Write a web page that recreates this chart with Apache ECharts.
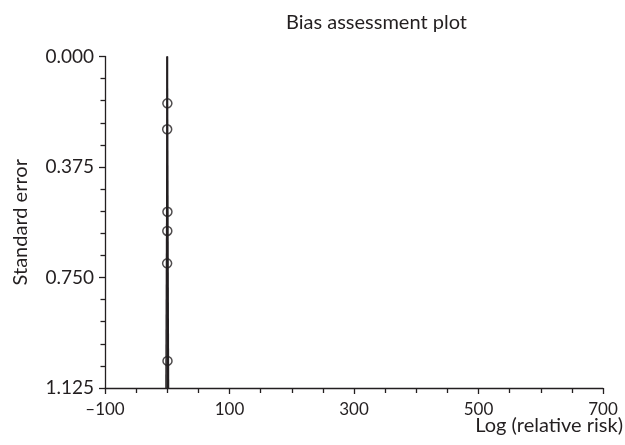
<!DOCTYPE html>
<html>
<head>
    <meta charset="utf-8">
    <title>Bias assessment plot</title>
    <style>
        html, body { margin: 0; padding: 0; background: #fff; }
        #chart { width: 625px; height: 445px; }
    </style>
</head>
<body>
<div id="chart"></div>
<script src="https://cdn.jsdelivr.net/npm/echarts@6/dist/echarts.min.js"></script>
<script>
    // study points: log relative risk and standard error
    var logRR = [0.2, -0.1, 0.3, 0.1, -0.2, 0.4];
    var stdErr = [0.159, 0.247, 0.527, 0.592, 0.702, 1.033];
    // pooled estimate line and funnel limits
    var pooledLine = [[0, 0], [0, 1.125]];
    var funnelLeft = [[0, 0], [-2.2, 1.125]];
    var funnelRight = [[0, 0], [2.2, 1.125]];
    var xTicks = [-100, 100, 300, 500, 700];
    var yTicks = [0, 0.375, 0.75, 1.125];

    var font = 'Lato, "Open Sans", sans-serif';
    var ink = '#231f20';

    var points = logRR.map(function (x, i) { return [x, stdErr[i]]; });

    var myChart = echarts.init(document.getElementById('chart'));

    var option = {
        animation: false,
        backgroundColor: '#fff',
        title: {
            text: 'Bias assessment plot',
            left: 281,
            top: 8,
            textStyle: { fontFamily: font, fontSize: 20, fontWeight: 'normal', color: ink }
        },
        grid: { left: 105, right: 22, top: 56.5, bottom: 57, containLabel: false, outerBoundsMode: 'none' },
        xAxis: {
            type: 'value',
            min: xTicks[0],
            max: xTicks[xTicks.length - 1],
            interval: 200,
            name: 'Log (relative risk)',
            nameLocation: 'end',
            nameGap: 20,
            nameMoveOverlap: false,
            nameTextStyle: {
                fontFamily: font, fontSize: 20, color: ink,
                align: 'right', verticalAlign: 'top', padding: [28, 0, 0, 0]
            },
            axisLine: { onZero: false, lineStyle: { color: ink, width: 1.3 } },
            axisTick: { length: 6, lineStyle: { color: ink, width: 1.3 } },
            minorTick: { show: true, splitNumber: 4, length: 5, lineStyle: { color: ink, width: 1.3 } },
            splitLine: { show: false },
            axisLabel: {
                margin: 13,
                fontFamily: font, fontSize: 17, color: ink,
                formatter: function (v) { return v < 0 ? '\u2013' + Math.abs(v) : String(v); }
            }
        },
        yAxis: {
            type: 'value',
            inverse: true,
            min: yTicks[0],
            max: yTicks[yTicks.length - 1],
            interval: 0.375,
            name: 'Standard error',
            nameLocation: 'middle',
            nameGap: 74,
            nameTextStyle: { fontFamily: font, fontSize: 20, color: ink },
            axisLine: { onZero: false, lineStyle: { color: ink, width: 1.3 } },
            axisTick: { length: 6, lineStyle: { color: ink, width: 1.3 } },
            minorTick: { show: true, splitNumber: 5, length: 4.5, lineStyle: { color: ink, width: 1.3 } },
            splitLine: { show: false },
            axisLabel: {
                margin: 11,
                fontFamily: font, fontSize: 19, color: ink,
                formatter: function (v) { return v.toFixed(3); }
            }
        },
        series: [
            {
                type: 'line', data: pooledLine, symbol: 'none', z: 3,
                lineStyle: { color: ink, width: 2 }
            },
            {
                type: 'line', data: funnelLeft, symbol: 'none', z: 3,
                lineStyle: { color: ink, width: 1.3 }
            },
            {
                type: 'line', data: funnelRight, symbol: 'none', z: 3,
                lineStyle: { color: ink, width: 1.3 }
            },
            {
                type: 'scatter', data: points, symbol: 'circle', symbolSize: 9, z: 4,
                itemStyle: { color: 'rgba(0,0,0,0)', borderColor: ink, borderWidth: 1.5 }
            }
        ]
    };

    myChart.setOption(option);
</script>
</body>
</html>
